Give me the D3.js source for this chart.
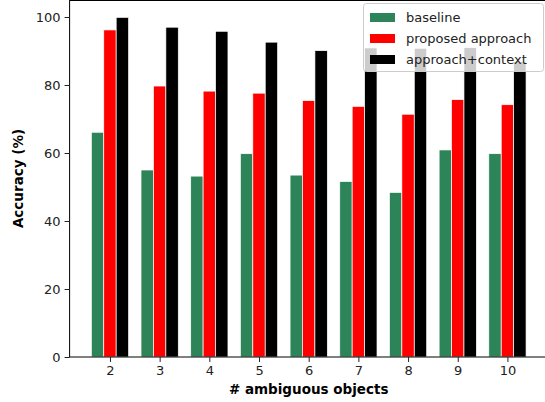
<!DOCTYPE html>
<html><head><meta charset="utf-8">
<script src="https://cdn.jsdelivr.net/npm/d3@7"></script>
<style>body{margin:0;background:#fff}svg{display:block}text{font-family:"DejaVu Sans",sans-serif}</style>
</head><body><svg id="c" width="545" height="402"></svg>
<script>
const categories = [2,3,4,5,6,7,8,9,10];
const baseline = [66.1,55.0,53.2,59.8,53.5,51.6,48.4,60.9,59.8];
const proposed = [96.2,79.7,78.2,77.6,75.4,73.7,71.4,75.7,74.2];
const context  = [99.9,97.0,95.8,92.6,90.1,90.9,90.8,91.0,86.9];
const seriesNames = ["baseline","proposed approach","approach+context"];
const seriesColors = ["#2e8459","#ff0000","#000000"];
const yTicks = [0,20,40,60,80,100];

const svg = d3.select("#c");
const L=69.6, R=547.8, T=0, B=357;
const x = d3.scaleLinear().domain([1.1875,10.8125]).range([L,R]);
const y = d3.scaleLinear().domain([0,105]).range([B,T]);
const bw = 0.25;
const all = [baseline, proposed, context];
const g = svg.append("g");
all.forEach((vals,si)=>{
  g.selectAll(null).data(vals).enter().append("rect")
    .attr("x",(d,i)=>x(categories[i]+(si-1)*bw-bw/2))
    .attr("width",x(bw)-x(0))
    .attr("y",d=>y(d)).attr("height",d=>y(0)-y(d))
    .attr("fill",seriesColors[si]).attr("stroke","#fff").attr("stroke-width",0.7);
});
// frame
svg.append("rect").attr("x",L).attr("y",T+0.5).attr("width",R-L).attr("height",B-T-0.5)
  .attr("fill","none").attr("stroke","#000").attr("stroke-width",1);
const xa = svg.append("g").attr("transform",`translate(0,${B})`)
  .call(d3.axisBottom(x).tickValues(categories).tickSize(5).tickPadding(4).tickFormat(d3.format("d")));
const ya = svg.append("g").attr("transform",`translate(${L},0)`)
  .call(d3.axisLeft(y).tickValues(yTicks).tickSize(5).tickPadding(4));
[xa,ya].forEach(a=>{a.select(".domain").remove();a.selectAll("text").attr("font-size",13).attr("fill","#222").attr("font-family","DejaVu Sans");a.selectAll("line").attr("stroke","#222");});
svg.append("text").attr("x",(L+R)/2).attr("y",394).attr("text-anchor","middle")
  .attr("font-size",13.5).attr("font-weight","bold").text("# ambiguous objects");
svg.append("text").attr("transform",`translate(23,${(B+T)/2}) rotate(-90)`).attr("text-anchor","middle")
  .attr("font-size",13.5).attr("font-weight","bold").text("Accuracy (%)");
// legend
const lg = svg.append("g");
lg.append("rect").attr("x",363.5).attr("y",3.5).attr("width",180).attr("height",68).attr("rx",3)
  .attr("fill","#fff").attr("fill-opacity",0.8).attr("stroke","#ccc");
seriesNames.forEach((n,i)=>{
  const yy = 17+i*21;
  lg.append("rect").attr("x",370).attr("y",yy-4).attr("width",25).attr("height",9).attr("fill",seriesColors[i]);
  lg.append("text").attr("x",406).attr("y",yy+5).attr("font-size",13).attr("fill","#222").text(n);
});
</script></body></html>
